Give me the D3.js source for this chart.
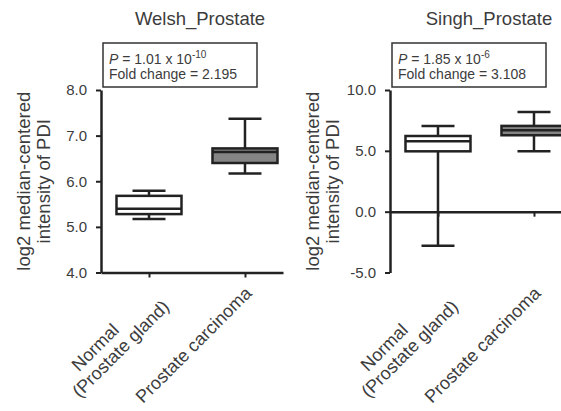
<!DOCTYPE html>
<html>
<head>
<meta charset="utf-8">
<script src="https://cdn.jsdelivr.net/npm/d3@7"></script>
<style>
  body { margin: 0; background: #fff; }
  svg { display: block; font-family: "Liberation Sans", Arial, sans-serif; }
</style>
</head>
<body>
<svg id="chart" width="561" height="411"></svg>
<script>
// values
var categories = ["Normal (Prostate gland)", "Prostate carcinoma"];
var categoryLines = [["Normal", "(Prostate gland)"], ["Prostate carcinoma"]];
var datasets = ["Welsh_Prostate", "Singh_Prostate"];

var welshBoxes = [
  { min: 5.17, q1: 5.28, median: 5.40, q3: 5.68, max: 5.79 },
  { min: 6.17, q1: 6.40, median: 6.64, q3: 6.72, max: 7.37 }
];
var singhBoxes = [
  { min: -2.81, q1: 4.96, median: 5.79, q3: 6.22, max: 7.05 },
  { min: 4.96, q1: 6.28, median: 6.69, q3: 7.05, max: 8.20 }
];

var welshTicks = [4, 5, 6, 7, 8];
var singhTicks = [-5, 0, 5, 10];

var pMantissa = ["1.01", "1.85"];
var pExponent = ["-10", "-6"];
var foldChanges = ["2.195", "3.108"];
var yLabel = ["log2 median-centered", "intensity of PDI"];

var svg = d3.select("#chart"),
    ink = "#222",
    textCol = "#3c3c3c",
    plotTop = 90,
    plotBottom = 272.5,
    axisLen = 182;

function drawPanel(i, x0, boxes, ticks, baseValue) {
  var g = svg.append("g"),
      y = d3.scaleLinear().domain(d3.extent(ticks)).range([plotBottom, plotTop]),
      x = d3.scalePoint().domain(categories).range([x0, x0 + axisLen])
            .padding(0.448).align(0.558),
      boxW = 65, capW = 33;

  // title
  g.append("text")
    .attr("x", x0 + 99).attr("y", 25)
    .attr("text-anchor", "middle")
    .attr("font-size", 18.5).attr("fill", textCol)
    .text(datasets[i]);

  // stats box
  g.append("rect")
    .attr("x", x0 + 2).attr("y", 43)
    .attr("width", 154).attr("height", 44)
    .attr("fill", "#fff").attr("stroke", "#333").attr("stroke-width", 1.5);

  var t1 = g.append("text")
    .attr("x", x0 + 8).attr("y", 63.5)
    .attr("font-size", 14).attr("fill", textCol);
  t1.append("tspan").attr("font-style", "italic").text("P");
  t1.append("tspan").text(" = " + pMantissa[i] + " x 10");
  t1.append("tspan").attr("font-size", 10).attr("dy", -6).text(pExponent[i]);

  g.append("text")
    .attr("x", x0 + 8).attr("y", 78.5)
    .attr("font-size", 14).attr("fill", textCol)
    .text("Fold change = " + foldChanges[i]);

  // y axis label
  yLabel.forEach(function(s, k) {
    g.append("text")
      .attr("transform", "translate(" + (x0 - 71 + k * 20) + "," + ((plotTop + plotBottom) / 2) + ") rotate(-90)")
      .attr("text-anchor", "middle")
      .attr("font-size", 18.5).attr("fill", textCol)
      .text(s);
  });

  // axes
  var yAxis = g.append("g")
    .attr("transform", "translate(" + x0 + ",0)")
    .call(d3.axisLeft(y).tickValues(ticks).tickSize(5).tickSizeOuter(0)
      .tickPadding(9).tickFormat(function(d) { return d.toFixed(1); }));

  var xAxis = g.append("g")
    .attr("transform", "translate(0," + y(baseValue) + ")")
    .call(d3.axisBottom(x).tickSize(5).tickSizeOuter(0).tickFormat(""));

  [yAxis, xAxis].forEach(function(a) {
    a.select(".domain").attr("stroke", ink).attr("stroke-width", 2.5);
    a.selectAll(".tick line").attr("stroke", ink).attr("stroke-width", 2);
    a.selectAll(".tick text").attr("fill", textCol).attr("font-size", 15)
      .attr("font-family", "Liberation Sans, Arial, sans-serif");
  });

  // boxes
  var bx = g.append("g").selectAll("g")
    .data(boxes)
    .enter().append("g")
      .attr("transform", function(d, k) { return "translate(" + x(categories[k]) + ",0)"; });

  bx.append("line")
    .attr("y1", function(d) { return y(d.min); })
    .attr("y2", function(d) { return y(d.max); })
    .attr("stroke", ink).attr("stroke-width", 2.5);

  bx.selectAll(".cap")
    .data(function(d) { return [d.min, d.max]; })
    .enter().append("line")
      .attr("class", "cap")
      .attr("x1", -capW / 2).attr("x2", capW / 2)
      .attr("y1", function(v) { return y(v); })
      .attr("y2", function(v) { return y(v); })
      .attr("stroke", ink).attr("stroke-width", 2.5);

  bx.append("rect")
    .attr("x", -boxW / 2).attr("width", boxW)
    .attr("y", function(d) { return y(d.q3); })
    .attr("height", function(d) { return y(d.q1) - y(d.q3); })
    .attr("fill", function(d, k) { return k === 0 ? "#fff" : "#858585"; })
    .attr("stroke", ink).attr("stroke-width", 2.5);

  bx.append("line")
    .attr("x1", -boxW / 2).attr("x2", boxW / 2)
    .attr("y1", function(d) { return y(d.median); })
    .attr("y2", function(d) { return y(d.median); })
    .attr("stroke", ink).attr("stroke-width", 2.5);

  // rotated category labels
  categoryLines.forEach(function(lines, k) {
    var lg = g.append("g")
      .attr("transform", "translate(" + x(categories[k]) + "," + plotBottom + ") rotate(-45)");
    var n = lines.length,
        last = lg.append("text")
          .attr("x", -10).attr("y", 21 + (n - 1) * 19)
          .attr("text-anchor", "end")
          .attr("font-size", 18).attr("fill", textCol)
          .text(lines[n - 1]);
    if (n > 1) {
      var w = last.node().getComputedTextLength();
      lg.append("text")
        .attr("x", -10 - w / 2 - 17).attr("y", 21)
        .attr("text-anchor", "middle")
        .attr("font-size", 18).attr("fill", textCol)
        .text(lines[0]);
    }
  });
}

drawPanel(0, 101, welshBoxes, welshTicks, 4);
drawPanel(1, 390, singhBoxes, singhTicks, 0);
</script>
</body>
</html>
